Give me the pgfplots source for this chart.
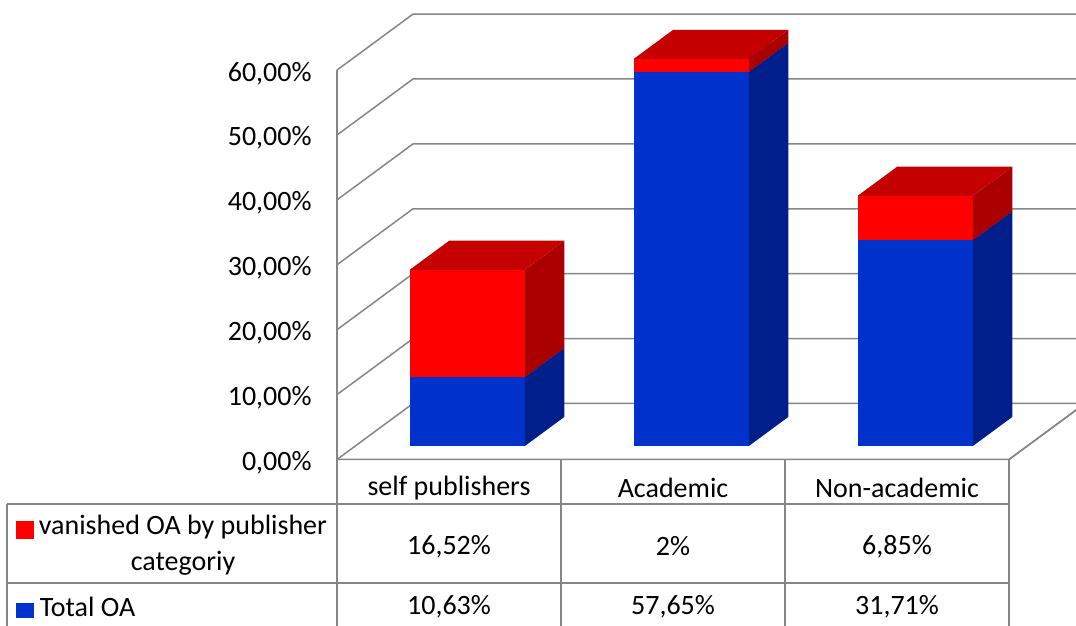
\documentclass[border=0pt]{standalone}
\usepackage{fontspec}
\setmainfont{Carlito}
\usepackage{pgfplots}
\pgfplotsset{compat=1.18}
\definecolor{gridc}{RGB}{134,134,134}
\definecolor{bluefront}{RGB}{0,51,204}
\definecolor{blueside}{RGB}{0,31,138}
\definecolor{redfront}{RGB}{255,0,0}
\definecolor{redtop}{RGB}{196,0,0}
\definecolor{redside}{RGB}{170,0,0}
% one bar segment: x0, x1, bottom, top, front, side, top colours
\newcommand{\cube}[7]{%
  \addplot3[fill=#5,draw=none] coordinates {(#1,0.24,#3) (#2,0.24,#3) (#2,0.24,#4) (#1,0.24,#4)};
  \addplot3[fill=#6,draw=none] coordinates {(#2,0.24,#3) (#2,0.76,#3) (#2,0.76,#4) (#2,0.24,#4)};
  \addplot3[fill=#7,draw=none] coordinates {(#1,0.24,#4) (#2,0.24,#4) (#2,0.76,#4) (#1,0.76,#4)};
}
\begin{document}
\begin{tikzpicture}[font=\fontsize{14}{17}\selectfont]
\begin{axis}[
  x={(112pt,0pt)}, y={(38pt,28pt)}, z={(0pt,3.245pt)},
  xmin=-0.5, xmax=2.5, ymin=0, ymax=1, zmin=0, zmax=60,
  axis lines*=left,
  axis line style={gridc, line width=0.75pt},
  xtick=\empty, ytick=\empty,
  ztick={0,10,20,30,40,50,60},
  zticklabels={{0,00\%},{10,00\%},{20,00\%},{30,00\%},{40,00\%},{50,00\%},{60,00\%}},
  major tick length=0pt,
  z tick label style={anchor=east, inner sep=0pt, xshift=-12.5pt, yshift=-1.6pt, font=\fontsize{14}{17}\selectfont},
  clip=false,
]
% walls: gridlines on left wall and back wall
\draw[gridc, line width=0.75pt] (axis cs:-0.5,0,0) -- (axis cs:-0.5,1,0) -- (axis cs:2.5,1,0);
\draw[gridc, line width=0.75pt] (axis cs:-0.5,0,10) -- (axis cs:-0.5,1,10) -- (axis cs:2.5,1,10);
\draw[gridc, line width=0.75pt] (axis cs:-0.5,0,20) -- (axis cs:-0.5,1,20) -- (axis cs:2.5,1,20);
\draw[gridc, line width=0.75pt] (axis cs:-0.5,0,30) -- (axis cs:-0.5,1,30) -- (axis cs:2.5,1,30);
\draw[gridc, line width=0.75pt] (axis cs:-0.5,0,40) -- (axis cs:-0.5,1,40) -- (axis cs:2.5,1,40);
\draw[gridc, line width=0.75pt] (axis cs:-0.5,0,50) -- (axis cs:-0.5,1,50) -- (axis cs:2.5,1,50);
\draw[gridc, line width=0.75pt] (axis cs:-0.5,0,60) -- (axis cs:-0.5,1,60) -- (axis cs:2.5,1,60);
\draw[gridc, line width=0.75pt] (axis cs:-0.5,0,0) -- (axis cs:2.5,0,0) -- (axis cs:2.5,1,0);

% bars: Total OA (blue) then vanished OA (red) stacked on it
\cube{-0.257}{0.257}{0}{10.63}{bluefront}{blueside}{bluefront}
\cube{-0.257}{0.257}{10.63}{27.15}{redfront}{redside}{redtop}
\cube{0.743}{1.257}{0}{57.65}{bluefront}{blueside}{bluefront}
\cube{0.743}{1.257}{57.65}{59.65}{redfront}{redside}{redtop}
\cube{1.743}{2.257}{0}{31.71}{bluefront}{blueside}{bluefront}
\cube{1.743}{2.257}{31.71}{38.56}{redfront}{redside}{redtop}

% data table
\draw[gridc, line width=0.9pt] (axis cs:-1.9732,0,-6.857) -- (axis cs:2.5,0,-6.857);
\draw[gridc, line width=0.9pt] (axis cs:-1.9732,0,-19.03) -- (axis cs:2.5,0,-19.03);
\draw[gridc, line width=0.9pt] (axis cs:-1.9732,0,-6.857) -- (axis cs:-1.9732,0,-28);
\draw[gridc, line width=0.9pt] (axis cs:-0.5,0,0) -- (axis cs:-0.5,0,-28);
\draw[gridc, line width=0.9pt] (axis cs:0.5,0,0) -- (axis cs:0.5,0,-28);
\draw[gridc, line width=0.9pt] (axis cs:1.5,0,0) -- (axis cs:1.5,0,-28);
\draw[gridc, line width=0.9pt] (axis cs:2.5,0,0) -- (axis cs:2.5,0,-28);

\node at (axis cs:0,0,-4.39) {self publishers};
\node at (axis cs:1,0,-4.39) {Academic};
\node at (axis cs:2,0,-4.39) {Non-academic};

\fill[redfront] (axis cs:-1.9330,0,-9.50) rectangle (axis cs:-1.8530,0,-12.25);
\node at (axis cs:-1.1875,0,-10.40) {vanished OA by publisher};
\node at (axis cs:-1.1875,0,-15.95) {categoriy};
\node at (axis cs:0,0,-13.41) {16,52\%};
\node at (axis cs:1,0,-13.41) {2\%};
\node at (axis cs:2,0,-13.41) {6,85\%};

\fill[bluefront] (axis cs:-1.9330,0,-22.15) rectangle (axis cs:-1.8530,0,-24.40);
\node[anchor=west, inner sep=0pt] at (axis cs:-1.8286,0,-22.73) {Total OA};
\node at (axis cs:0,0,-22.73) {10,63\%};
\node at (axis cs:1,0,-22.73) {57,65\%};
\node at (axis cs:2,0,-22.73) {31,71\%};

\coordinate (TL) at (axis cs:-2.0045,0,70.80);
\coordinate (BR) at (axis cs:2.799,0,-25.65);
\end{axis}
\pgfresetboundingbox
\useasboundingbox (TL) rectangle (BR);
\end{tikzpicture}
\end{document}
